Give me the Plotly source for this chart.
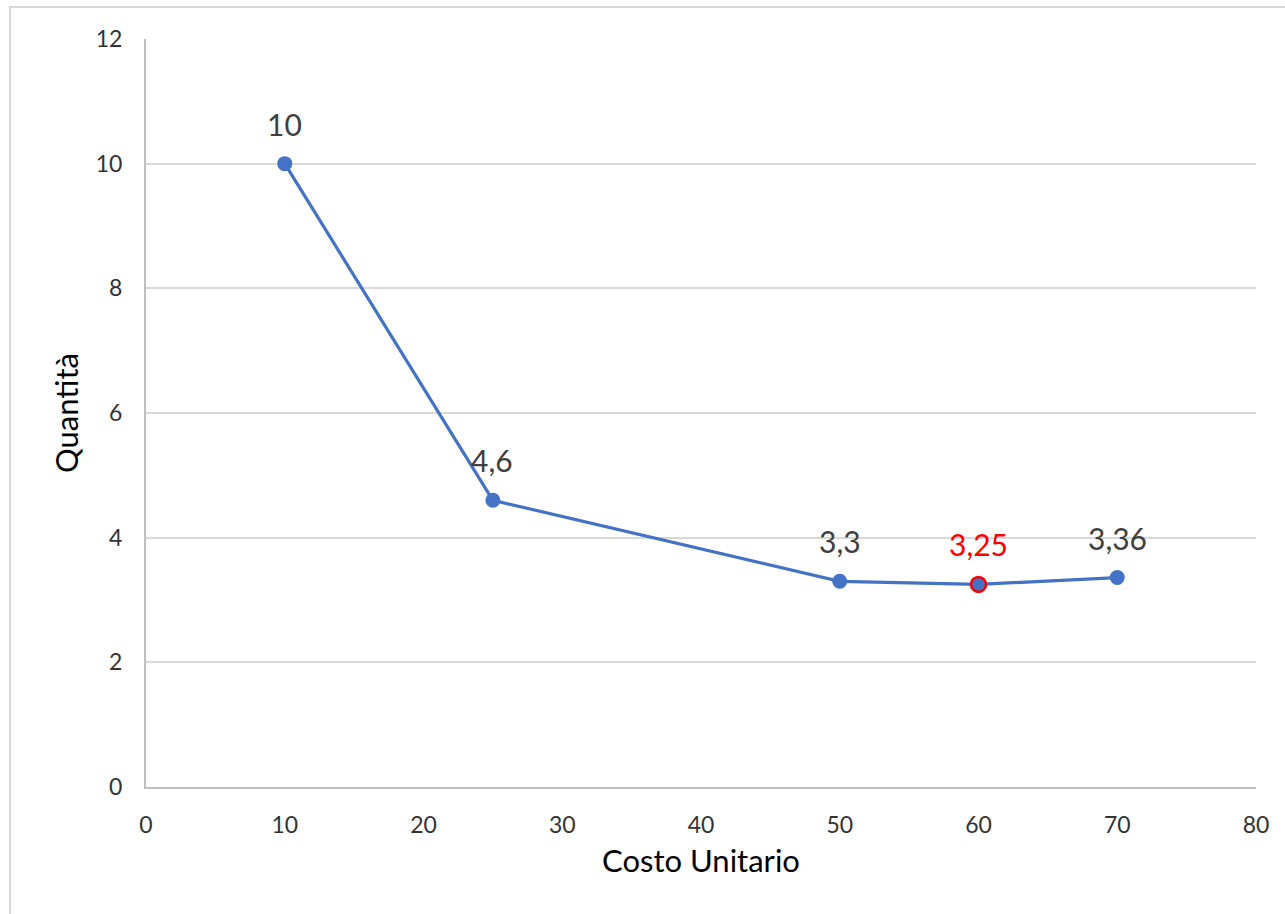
import plotly.graph_objects as go

# Unit cost vs. quantity
costo = [10, 25, 50, 60, 70]
quantita = [10, 4.6, 3.3, 3.25, 3.36]
etichette = ["10", "4,6", "3,3", "3,25", "3,36"]
evidenziato = 3  # index of the minimum point, shown in red

x_ticks = [0, 10, 20, 30, 40, 50, 60, 70, 80]
y_ticks = [0, 2, 4, 6, 8, 10, 12]

BLUE = "#4472C4"
RED = "#FF0000"
FONT = "Lato, 'Open Sans', sans-serif"

W, H = 1285, 914
L, R, T, B = 146, 29, 39, 127
pw, ph = W - L - R, H - T - B

line_colors = [BLUE] * len(costo)
line_colors[evidenziato] = RED

fig = go.Figure()
fig.add_trace(go.Scatter(
    x=costo, y=quantita,
    mode="lines+markers",
    line=dict(color=BLUE, width=3.2),
    marker=dict(size=15, color=BLUE,
                line=dict(color=line_colors, width=[0 if c == BLUE else 2.5 for c in line_colors])),
    hoverinfo="skip",
    showlegend=False,
))

for i, (xv, yv, t) in enumerate(zip(costo, quantita, etichette)):
    fig.add_annotation(
        x=xv, y=yv, text=t, showarrow=False,
        yshift=40, xshift=-1 if i == 1 else 0,
        font=dict(family=FONT, size=30, color=RED if i == evidenziato else "#404040"),
    )

# light frame around the chart
def px_x(p):
    return (p - L) / pw

def px_y(p):
    return (H - B - p) / ph

fig.add_shape(type="rect", xref="paper", yref="paper",
              x0=px_x(10), x1=px_x(1295), y0=px_y(925), y1=px_y(7),
              line=dict(color="#D9D9D9", width=2), layer="below")

fig.update_layout(
    width=W, height=H,
    margin=dict(l=L, r=R, t=T, b=B),
    paper_bgcolor="white", plot_bgcolor="white",
    separators=", ",
    font=dict(family=FONT, color="#000000"),
)
fig.update_xaxes(
    range=[0, 80], tickvals=x_ticks, showgrid=False, zeroline=False,
    showline=True, linecolor="#BFBFBF", linewidth=2,
    ticks="", ticklabelstandoff=16,
    tickfont=dict(family=FONT, size=23, color="#333333"),
    title=dict(text="Costo Unitario", standoff=14,
               font=dict(family=FONT, size=31, color="#000000")),
)
fig.update_yaxes(
    range=[0, 12], tickvals=y_ticks, showgrid=True, gridcolor="#D9D9D9", gridwidth=1.5,
    zeroline=False, showline=True, linecolor="#BFBFBF", linewidth=2,
    ticks="", ticklabelstandoff=17,
    tickfont=dict(family=FONT, size=23, color="#333333"),
    title=dict(text="Quantità", standoff=8,
               font=dict(family=FONT, size=31, color="#000000")),
)

fig.write_html("out.html")
